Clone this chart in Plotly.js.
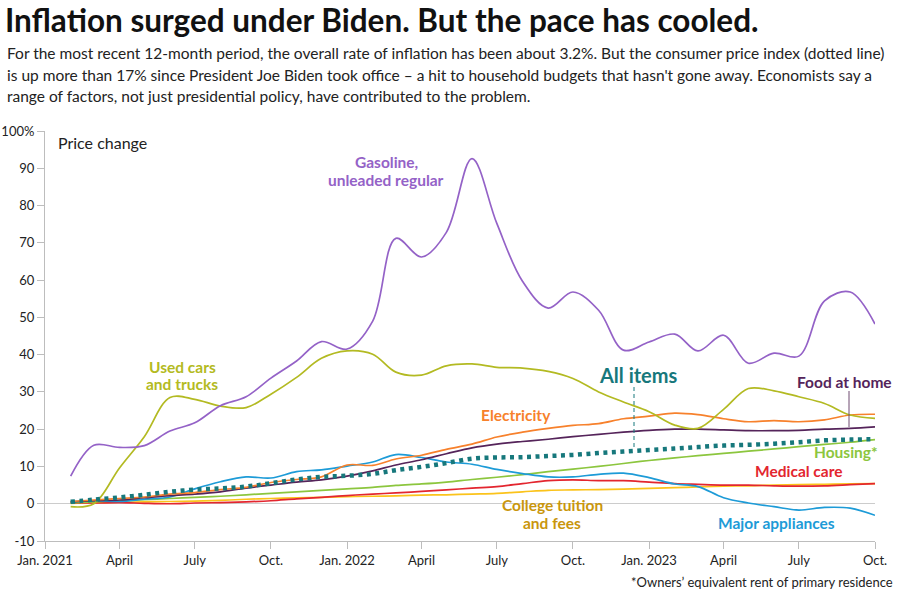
<!DOCTYPE html>
<html><head><meta charset="utf-8">
<script src="https://cdn.plot.ly/plotly-3.0.1.min.js"></script>
<style>html,body{margin:0;padding:0;background:#fff;}#chart{width:900px;height:592px;}</style>
</head><body><div id="chart"></div>
<script>
const months = ['2021-02-01','2021-03-01','2021-04-01','2021-05-01','2021-06-01','2021-07-01','2021-08-01','2021-09-01','2021-10-01','2021-11-01','2021-12-01',
'2022-01-01','2022-02-01','2022-03-01','2022-04-01','2022-05-01','2022-06-01','2022-07-01','2022-08-01','2022-09-01','2022-10-01','2022-11-01','2022-12-01',
'2023-01-01','2023-02-01','2023-03-01','2023-04-01','2023-05-01','2023-06-01','2023-07-01','2023-08-01','2023-09-01','2023-10-01'];

const gasoline   = [7.4,15.7,15.1,15.6,19.5,21.7,26.3,28.7,33.7,38.3,43.5, 41.5,49.0,71.2,66.2,72.8,92.6,75.2,59.7,52.5,56.8,51.9,41.2, 43.4,45.5,41.0,45.2,37.7,40.4,39.6,54.4,56.8,48.2];
const usedCars   = [-0.8,0.0,9.6,18.0,28.5,28.0,26.2,25.8,29.4,33.9,39.0, 41.0,40.1,35.3,34.5,37.0,37.5,36.6,36.4,35.5,33.6,30.0,27.3, 24.7,21.1,20.2,25.3,30.9,30.3,28.7,26.9,23.8,22.9];
const electricity= [0.6,1.0,1.4,1.8,2.6,3.0,3.8,4.4,5.7,6.5,7.2, 10.4,10.3,12.0,13.0,14.6,16.0,17.9,19.2,20.2,21.0,21.5,22.8, 23.5,24.3,23.9,22.8,22.0,22.3,22.0,22.5,23.8,24.0];
const foodAtHome = [0.5,0.8,1.0,1.6,2.2,2.6,3.2,4.2,5.0,5.8,6.4, 7.4,8.8,10.4,11.8,13.4,15.0,16.0,16.7,17.3,18.0,18.6,19.2, 19.7,20.0,20.0,19.8,19.6,19.6,19.7,20.0,20.2,20.6];
const allItems   = [0.5,1.1,1.7,2.4,3.2,3.8,4.1,4.6,5.5,6.5,7.2, 7.5,8.0,9.0,9.9,10.9,12.1,12.4,12.5,12.8,13.1,13.6,14.0, 14.4,14.8,15.2,15.6,15.8,16.1,16.5,17.0,17.2,17.3];
const appliances = [0.5,0.8,0.6,1.2,1.8,4.0,5.9,7.2,6.9,8.6,9.1, 10.1,11.2,13.2,12.4,11.2,10.6,9.2,8.1,7.2,7.2,7.9,8.2, 7.0,5.3,4.6,1.6,0.2,-0.8,-1.7,-1.0,-1.2,-3.1];
const housing    = [0.2,0.5,0.8,1.1,1.4,1.7,2.0,2.4,2.8,3.2,3.6, 4.0,4.4,4.9,5.3,5.8,6.5,7.1,7.8,8.6,9.3,10.0,10.8, 11.6,12.3,12.9,13.5,14.1,14.7,15.3,15.9,16.5,17.2];
const medical    = [0.2,0.2,0.3,0.1,0.0,0.2,0.3,0.5,0.8,1.3,1.7, 2.2,2.6,2.9,3.3,3.7,4.2,4.6,5.4,6.2,6.4,6.2,6.2, 5.8,5.4,5.2,5.0,5.0,4.8,4.7,4.8,5.1,5.4];
const tuition    = [0.1,0.3,0.4,0.5,0.6,0.7,0.9,1.2,1.4,1.6,1.7, 1.9,2.0,2.1,2.3,2.4,2.6,2.8,3.2,3.6,3.7,3.8,3.9, 4.1,4.3,4.5,4.7,4.8,5.0,5.1,5.2,5.3,5.4];

const xTickVals = ['2021-01-01','2021-04-01','2021-07-01','2021-10-01','2022-01-01','2022-04-01','2022-07-01','2022-10-01','2023-01-01','2023-04-01','2023-07-01','2023-10-01'];
const xTickText = ['Jan. 2021','April','July','Oct.','Jan. 2022','April','July','Oct.','Jan. 2023','April','July','Oct.'];
const yTickVals = [-10,0,10,20,30,40,50,60,70,80,90,100];
const yTickText = ['-10','0','10','20','30','40','50','60','70','80','90','100%'];

const FONT = 'Lato, "Open Sans", sans-serif';
const C = {gas:'#9462c7', cars:'#b3ba22', elec:'#f7812c', food:'#55245a', all:'#17787c', appl:'#1d9bd7', hous:'#8cc63e', med:'#e3262f', tuit:'#fbc31b', tuitLbl:'#c9960c'};

function tr(y, color, extra) {
  return Object.assign({x: months, y: y, type:'scatter', mode:'lines', hoverinfo:'skip',
    line:{color:color, width:1.7, shape:'spline', smoothing:1}}, extra||{});
}
const data = [
  tr(tuition, C.tuit), tr(medical, C.med), tr(housing, C.hous), tr(appliances, C.appl),
  tr(foodAtHome, C.food), tr(electricity, C.elec), tr(usedCars, C.cars), tr(gasoline, C.gas),
  tr(allItems, C.all, {line:{color:C.all, width:4.5, dash:'4px,4.5px', shape:'spline', smoothing:1}})
];

const L=45, R=875, T=131, B=541;
const px = p => (p - L)/(R - L);
const py = p => (B - p)/(B - T);
function lab(text, x, y, size, color, weight, anchor) {
  return {xref:'paper', yref:'paper', x:px(x), y:py(y), text:text, showarrow:false,
    xanchor:anchor||'center', yanchor:'middle',
    font:{family:FONT, size:size, color:color, weight:weight||700}};
}
const annotations = [
  lab('For the most recent 12-month period, the overall rate of inflation has been about 3.2%. But the consumer price index (dotted line)', 5, 53, 15.5, '#222', 400, 'left'),
  lab('is up more than 17% since President Joe Biden took office – a hit to household budgets that hasn\'t gone away. Economists say a', 5, 74.5, 15.5, '#222', 400, 'left'),
  lab('range of factors, not just presidential policy, have contributed to the problem.', 5, 96, 15.5, '#222', 400, 'left'),
  lab('Price change', 56, 142, 16, '#222', 400, 'left'),
  lab('Gasoline,', 386, 162, 15.5, C.gas),
  lab('unleaded regular', 386, 179.5, 15.5, C.gas),
  lab('Used cars', 182, 366.5, 15.5, C.cars),
  lab('and trucks', 182, 383.5, 15.5, C.cars),
  lab('All items', 638.5, 375, 20, C.all),
  lab('Food at home', 844, 382, 15.5, C.food),
  lab('Electricity', 516, 415, 15.5, C.elec),
  lab('Housing*', 880, 452, 15.5, C.hous, 700, 'right'),
  lab('Medical care', 799, 471, 15.5, C.med),
  lab('College tuition', 552, 505, 15.5, C.tuitLbl),
  lab('and fees', 552, 522.5, 15.5, C.tuitLbl),
  lab('Major appliances', 776, 523, 15.5, C.appl),
  lab('*Owners\u2019 equivalent rent of primary residence', 895, 581.5, 13, '#222', 400, 'right')
];
const shapes = [
  {type:'line', xref:'paper', yref:'paper', x0:px(634), x1:px(634), y0:py(387), y1:py(448), line:{color:C.all, width:1, dash:'4px,3px'}},
  {type:'line', xref:'paper', yref:'paper', x0:px(849), x1:px(849), y0:py(391), y1:py(427), line:{color:'#6e4a70', width:1}}
];

const layout = {
  width:900, height:592, paper_bgcolor:'#fff', plot_bgcolor:'#fff',
  margin:{l:L, r:900-R, t:T, b:592-B, pad:0},
  showlegend:false,
  font:{family:FONT, color:'#222'},
  title:{text:'Inflation surged under Biden. But the pace has cooled.', xref:'container', yref:'container',
    x:5/900, xanchor:'left', y:1-21/592, yanchor:'middle',
    font:{family:'"Liberation Sans Narrow", "Arial Narrow", Lato, sans-serif', size:31.5, weight:700, color:'#111'}},
  xaxis:{type:'date', range:['2021-01-01','2023-10-01'], tickvals:xTickVals, ticktext:xTickText,
    showgrid:false, zeroline:false, showline:true, linecolor:'#bdbdbd', linewidth:1,
    ticks:'outside', ticklen:7, tickcolor:'#bdbdbd', tickfont:{family:FONT, size:13, color:'#222'}},
  yaxis:{range:[-10,100], tickvals:yTickVals, ticktext:yTickText, showgrid:false,
    zeroline:true, zerolinecolor:'#cccccc', zerolinewidth:1, showline:true, linecolor:'#bdbdbd', linewidth:1,
    ticks:'outside', ticklen:7, tickcolor:'#bdbdbd', tickfont:{family:FONT, size:13, color:'#222'}},
  annotations:annotations, shapes:shapes
};
Plotly.newPlot('chart', data, layout, {staticPlot:true, displayModeBar:false});
</script></body></html>
